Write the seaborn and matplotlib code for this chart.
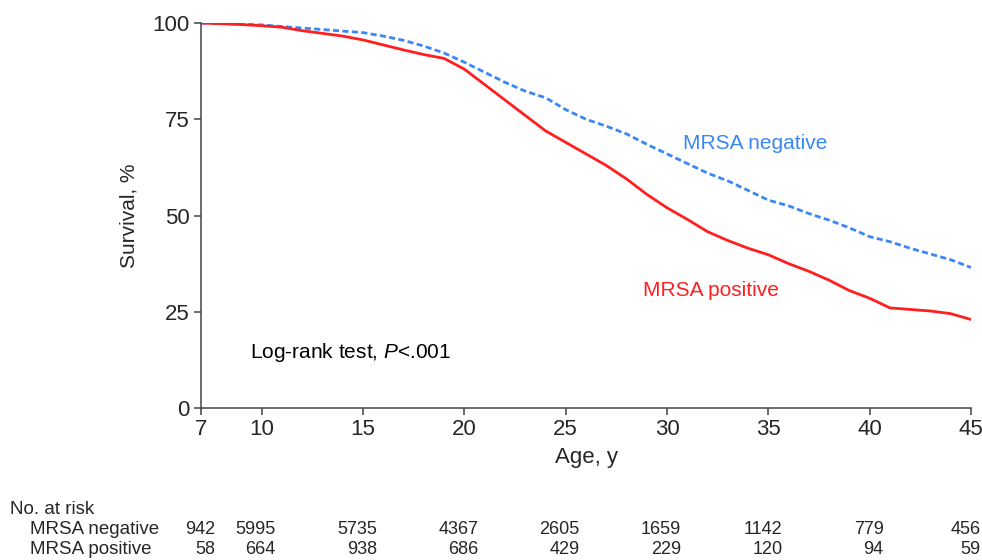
import matplotlib
matplotlib.use("Agg")
import matplotlib.pyplot as plt
import seaborn as sns
import pandas as pd

# Survival estimates (percent by age in years)
ages = [7, 8, 9, 10, 11, 12, 13, 14, 15, 16, 17, 18, 19, 20, 21, 22, 23, 24, 25, 26,
        27, 28, 29, 30, 31, 32, 33, 34, 35, 36, 37, 38, 39, 40, 41, 42, 43, 44, 45]
surv_negative = [100, 99.9, 99.7, 99.5, 99.1, 98.7, 98.3, 97.9, 97.5, 96.6, 95.5, 94.0,
                 92.2, 89.8, 87.2, 84.6, 82.3, 80.6, 77.5, 75.0, 73.2, 71.2, 68.5, 66.0,
                 63.5, 61.0, 59.0, 56.5, 54.0, 52.5, 50.5, 48.8, 46.8, 44.5, 43.2, 41.5,
                 40.0, 38.5, 36.5]
surv_positive = [100, 99.8, 99.6, 99.3, 98.9, 98.0, 97.3, 96.6, 95.6, 94.3, 93.0, 91.8,
                 90.8, 88.0, 84.0, 80.0, 76.0, 72.0, 69.0, 66.0, 63.0, 59.5, 55.5, 52.0,
                 49.0, 45.8, 43.5, 41.5, 39.8, 37.5, 35.5, 33.2, 30.5, 28.5, 26.0, 25.6,
                 25.2, 24.5, 23.0]

# Numbers at risk
risk_ages = [7, 10, 15, 20, 25, 30, 35, 40, 45]
risk_negative = [942, 5995, 5735, 4367, 2605, 1659, 1142, 779, 456]
risk_positive = [58, 664, 938, 686, 429, 229, 120, 94, 59]

x_ticks = [7, 10, 15, 20, 25, 30, 35, 40, 45]
y_ticks = [0, 25, 50, 75, 100]

blue = "#3a87f5"
red = "#ff1f1f"

sns.set_theme(style="ticks")
plt.rcParams["font.family"] = ["Liberation Sans", "DejaVu Sans"]
plt.rcParams["mathtext.fontset"] = "custom"
plt.rcParams["mathtext.it"] = "Liberation Sans:italic"
plt.rcParams["mathtext.rm"] = "Liberation Sans"

df = pd.concat([
    pd.DataFrame({"age": ages, "survival": surv_negative, "group": "MRSA negative"}),
    pd.DataFrame({"age": ages, "survival": surv_positive, "group": "MRSA positive"}),
])

fig = plt.figure(figsize=(9.82, 5.6), dpi=100)
ax = fig.add_axes([0.2047, 0.2714, 0.7841, 0.6875])

sns.lineplot(data=df, x="age", y="survival", hue="group", style="group",
             palette={"MRSA negative": blue, "MRSA positive": red},
             dashes={"MRSA negative": (2.2, 1.2), "MRSA positive": ""},
             linewidth=2.0, legend=False, ax=ax)

ax.set_xlim(7, 45)
ax.set_ylim(0, 100)
ax.set_xticks(x_ticks)
ax.set_yticks(y_ticks)
ax.tick_params(labelsize=16, length=5, width=1.1, color="#444444", pad=3)
for s in ["left", "bottom"]:
    ax.spines[s].set_color("#444444")
    ax.spines[s].set_linewidth(1.1)
sns.despine(ax=ax)

ax.set_xlabel("Age, y", fontsize=16, labelpad=5)
ax.set_ylabel("Survival, %", fontsize=15, labelpad=10)

ax.text(30.8, 68.8, "MRSA negative", color=blue, fontsize=15, va="center")
ax.text(28.8, 30.6, "MRSA positive", color=red, fontsize=15, va="center")
ax.text(9.4, 14.5, "Log-rank test, $P$<.001", color="black", fontsize=15, va="center")

# Risk table below the axes
fig.text(10 / 982, 1 - 510 / 560, "No. at risk", fontsize=13.5, va="center")
fig.text(30 / 982, 1 - 530 / 560, "MRSA negative", fontsize=13.5, va="center")
fig.text(30 / 982, 1 - 550 / 560, "MRSA positive", fontsize=13.5, va="center")
for a, n_neg, n_pos in zip(risk_ages, risk_negative, risk_positive):
    off = 10 if a < 45 else 7
    ax.annotate(str(n_neg), xy=(a, 1 - 530 / 560), xycoords=("data", "figure fraction"),
                xytext=(off, 0), textcoords="offset points", ha="right", va="center",
                fontsize=13, annotation_clip=False)
    ax.annotate(str(n_pos), xy=(a, 1 - 550 / 560), xycoords=("data", "figure fraction"),
                xytext=(off, 0), textcoords="offset points", ha="right", va="center",
                fontsize=13, annotation_clip=False)

fig.savefig("out.png", dpi=100)
